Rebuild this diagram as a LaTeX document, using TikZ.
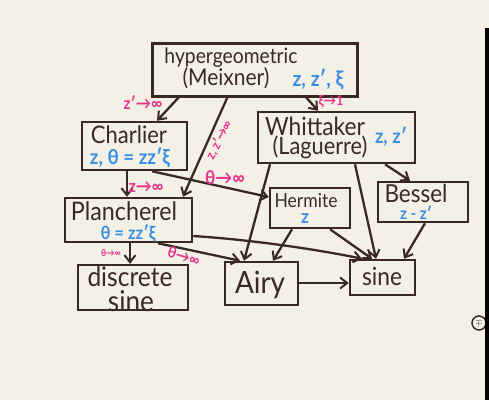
\documentclass[tikz,border=0pt]{standalone}
\usepackage{fontspec}
\setmainfont{Lato}
\usetikzlibrary{arrows.meta,calc}
\definecolor{paper}{HTML}{F3F0E5}
\definecolor{ink}{HTML}{3A2923}
\definecolor{pinkink}{HTML}{E8338A}
\definecolor{blueink}{HTML}{3A8EE6}
\newcommand\fitw[2]{\resizebox{#1pt}{!}{\scalebox{1}[1.1]{#2}}}
\tikzset{
  box/.style={draw=ink, line width=2.5pt, rectangle, inner sep=0pt},
  txt/.style={text=ink, font=\fontsize{16}{17}\selectfont, inner sep=0pt},
  par/.style={text=blueink, font=\fontsize{12}{13}\selectfont\bfseries, inner sep=0pt},
  lim/.style={text=pinkink, font=\fontsize{10}{11}\selectfont\bfseries, inner sep=0pt},
  arr/.style={draw=ink, line width=2.3pt, -{Straight Barb[length=7pt,width=11pt,line width=2pt]}},
}
\begin{document}
\begin{tikzpicture}[x=1pt,y=-1pt]
\fill[paper] (0,0) rectangle (489,400);
\useasboundingbox (0,0) rectangle (489,400);
\node[draw=ink, line width=1.5pt, circle, minimum size=14pt, inner sep=0pt, text=ink, font=\small] (mark) at (479,323) {$\mp$};
\fill[black] (485,28) rectangle (489,400);

% boxes
\node[box, minimum width=205pt, minimum height=53pt] (hyp) at (255,70) {};
\node[box, minimum width=105pt, minimum height=48pt] (cha) at (134.5,146) {};
\node[box, minimum width=157pt, minimum height=51pt] (whi) at (336.5,137.5) {};
\node[box, minimum width=80pt, minimum height=40pt] (her) at (310,208) {};
\node[box, minimum width=90pt, minimum height=40pt] (bes) at (423,202) {};
\node[box, minimum width=127pt, minimum height=44pt] (pla) at (128.5,220) {};
\node[box, minimum width=110pt, minimum height=45pt] (dsi) at (133,287.5) {};
\node[box, minimum width=73pt, minimum height=43pt] (air) at (261.5,283.5) {};
\node[box, minimum width=65pt, minimum height=35pt] (sin) at (382.5,277.5) {};

% texts
\node[txt] (t1) at (231,58) {\fitw{133}{hypergeometric}};
\node[txt] (t2) at (226,78) {\fitw{87}{(Meixner)}};
\node[par] (p1) at (318,80) {\fitw{51}{z, z′, ξ}};
\node[txt] (t3) at (129,135) {\fitw{76}{Charlier}};
\node[par] (p2) at (130,158) {\fitw{80}{z, θ = zz′ξ}};
\node[txt] (t4) at (315,126) {\fitw{100}{Whittaker}};
\node[txt] (t5) at (320,147) {\fitw{95}{(Laguerre)}};
\node[par] (p3) at (391,137) {\fitw{32}{z, z′}};
\node[txt] (t6) at (306,201) {\fitw{63}{Hermite}};
\node[par] (p4) at (305,219) {\fitw{8}{z}};
\node[txt] (t7) at (416,193) {\fitw{63}{Bessel}};
\node[par] (p5) at (416,213) {\fitw{32}{z - z′}};
\node[txt] (t8) at (124,211) {\fitw{106}{Plancherel}};
\node[par] (p6) at (128,234) {\fitw{55}{θ = zz′ξ}};
\node[txt] (t9) at (130,277) {\fitw{85}{discrete}};
\node[txt] (t10) at (131,301) {\fitw{46}{sine}};
\node[txt] (t11) at (260,285) {\fitw{50}{Airy}};
\node[txt] (t12) at (382,276) {\fitw{40}{sine}};

% connectors
\coordinate (h1) at (180,96);
\coordinate (h2) at (228,96);
\coordinate (h3) at (305,96);
\draw[arr] (h1) -- (cha.north -| 157,0);
\draw[arr] (h2) -- (pla.north -| 183,0);
\draw[arr] (h3) -- (whi.north -| 318,0);
\draw[arr] (cha.south -| 127,0) -- (pla.north -| 127,0);
\draw[arr] (cha.south -| 152,0) -- (her.west |- 0,197);
\draw[arr] (whi.south -| 270,0) -- (air.north -| 244,0);
\draw[arr] (whi.south -| 355,0) -- (sin.north -| 376,0);
\draw[arr] (whi.south -| 385,0) -- (bes.north -| 410,0);
\draw[arr] (her.south -| 292,0) -- (air.north -| 273,0);
\draw[arr] (her.south -| 330,0) -- (sin.north -| 372,0);
\draw[arr] (bes.south -| 425,0) -- (sin.north -| 404,0);
\draw[arr] (pla.south -| 130,0) -- (dsi.north -| 130,0);
\draw[arr] (pla.south -| 158,0) -- (air.north -| 240,0);
\draw[arr] (pla.east |- 0,236) .. controls (255,240) and (320,250) .. (sin.north -| 362,0);
\draw[arr] (air.east |- 0,283) -- (sin.west |- 0,283);

% limit labels
\node[lim] (l1) at (143,103) {\fitw{39}{z′→∞}};
\node[lim, rotate=63] (l2) at (219,140) {\fitw{42}{z, z′→∞}};
\node[lim] (l3) at (331,102) {\fitw{25}{ξ→1}};
\node[lim] (l4) at (146,187) {\fitw{35}{z→∞}};
\node[lim] (l5) at (225,178) {\fitw{40}{θ→∞}};
\node[lim] (l6) at (111,253) {\fitw{20}{θ→∞}};
\node[lim, rotate=-17] (l7) at (184,256) {\fitw{33}{θ→∞}};
\end{tikzpicture}
\end{document}
